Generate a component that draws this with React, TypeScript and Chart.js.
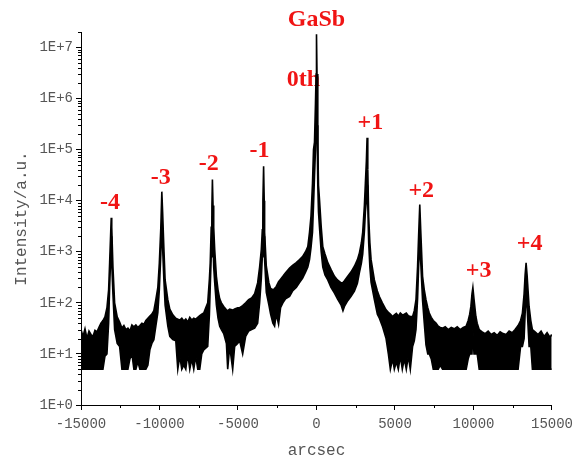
import React, { useEffect, useRef } from "react";
import { Chart, registerables } from "chart.js";

Chart.register(...registerables);

// Rocking-curve scan: angle (arcsec) with the upper and lower edge of the noisy trace (counts)
const arcsec = [
  -15000, -14873, -14746, -14619, -14491, -14364, -14237, -14110, -13983, -13856,
  -13729, -13602, -13475, -13347, -13240, -13176, -13106, -13074, -13042, -12966,
  -12858, -12693, -12540,
  -12394, -12267, -12140, -12012, -11885, -11758, -11631, -11504, -11377, -11250,
  -11123, -10996, -10868, -10741, -10614, -10487, -10360, -10233, -10106, -10011,
  -9915, -9852, -9801, -9725, -9642, -9470, -9343, -9152, -8962,
  -8835, -8708, -8580, -8453, -8326, -8199, -8072, -7945, -7818, -7691,
  -7564, -7436, -7309, -7182, -7055, -6928, -6820, -6769, -6706, -6661,
  -6630, -6591, -6547, -6484, -6376, -6273, -6165, -6057,
  -5911, -5739, -5656, -5529, -5339, -5212, -5021, -4894, -4703, -4512,
  -4322, -4131, -3940, -3750, -3623, -3515, -3451, -3413, -3369, -3330,
  -3305, -3197, -3031,
  -2923, -2777, -2669, -2561, -2415, -2288, -2142, -1970, -1716, -1525,
  -1290, -1080, -890, -699, -553, -445, -350, -254, -191, -127,
  -64, -25, 0,
  32, 83, 127, 191, 299, 401, 541, 719, 922, 1144,
  1335, 1570, 1685, 1780, 1990, 2193, 2415, 2606, 2733, 2860,
  2943, 3051, 3114, 3178, 3222, 3267, 3324, 3400, 3477,
  3686, 3877, 4004, 4195, 4431, 4577, 4704, 4850, 4958, 5085,
  5212, 5339, 5466, 5593, 5720, 5848, 5975, 6121, 6229, 6337,
  6439, 6503, 6578, 6642, 6757, 6865, 6973, 7088, 7183, 7310,
  7437, 7609, 7755, 7882, 8029, 8200, 8391, 8582, 8773, 8963,
  9154, 9345, 9535, 9662, 9758, 9834, 9904, 9961, 10031, 10152,
  10235, 10362, 10553, 10744, 10934, 11125, 11316, 11506, 11697, 11888,
  12078, 12269, 12460, 12650, 12841, 13000, 13115, 13223, 13287, 13350,
  13414, 13541, 13650, 13752, 13923, 14114, 14305, 14495, 14686, 14877,
  14980,
];

const upperCounts = [
  30, 22, 31, 20, 28, 24, 22, 29, 27, 33,
  40, 45, 53, 80, 180, 610, 2500, 4600, 3000, 510,
  100, 53, 42,
  32, 36, 30, 32, 28, 37, 34, 37, 33, 36,
  40, 38, 45, 50, 55, 60, 70, 115, 200, 600,
  3000, 15000, 6000, 1260, 280, 115, 75, 58, 50,
  48, 46, 50, 44, 48, 42, 52, 46, 50, 48,
  52, 56, 60, 63, 80, 100, 300, 610, 3000, 8000,
  26000, 8000, 3000, 1100, 330, 180, 120, 100,
  85, 73, 70, 75, 72, 76, 80, 80, 88, 100,
  115, 125, 150, 245, 500, 1100, 2700, 10000, 47000, 10000,
  2400, 520, 245,
  190, 180, 190, 210, 260, 290, 330, 390, 480, 540,
  610, 700, 800, 1000, 1260, 2400, 5000, 22000, 100000, 140000,
  830000, 3000000, 18000000,
  3000000, 140000, 20000, 10500, 3100, 1260, 900, 610, 450, 330,
  280, 245, 250, 270, 330, 400, 520, 700, 950, 1500,
  2400, 8000, 22000, 60000, 170000, 40000, 4900, 1500, 700,
  280, 170, 133, 100, 73, 65, 60, 54, 58, 62,
  55, 63, 58, 60, 63, 56, 54, 54, 70, 115,
  520, 2000, 8400, 2500, 330, 180, 115, 80, 63, 52,
  45, 40, 35, 33, 32, 34, 30, 33, 31, 34,
  30, 33, 35, 45, 60, 85, 150, 200, 120, 54,
  40, 30, 27, 25, 28, 24, 26, 23, 27, 25,
  24, 28, 26, 30, 36, 45, 63, 150, 350, 610,
  350, 85, 45, 30, 27, 24, 28, 22, 26, 21,
  24,
];

const lowerCounts = [
  5, 5, 5, 5, 5, 5, 5, 5, 5, 5,
  5, 5, 9, 10, 40, 200, 800, 2000, 600, 150,
  30, 16, 14,
  5, 5, 5, 5, 8, 10, 5, 5, 7, 5,
  5, 5, 5, 6, 12, 16, 19, 35, 64, 180,
  900, 4000, 1200, 300, 90, 35, 22, 19, 18,
  5, 9, 5, 6, 5, 10, 5, 8, 5, 9,
  5, 5, 10, 12, 13, 14, 60, 200, 800, 2500,
  5000, 1500, 500, 250, 90, 50, 35, 30,
  25, 16, 5, 14, 5, 14, 16, 18, 10, 22,
  28, 30, 32, 40, 100, 300, 800, 2500, 6000, 2000,
  700, 160, 90,
  60, 40, 35, 60, 38, 80, 100, 120, 133, 170,
  200, 250, 300, 400, 500, 700, 1200, 2400, 8000, 30000,
  100000, 300000, 500000,
  300000, 20000, 6000, 3000, 1000, 500, 350, 280, 200, 155,
  120, 90, 70, 85, 110, 133, 170, 240, 390, 600,
  900, 2500, 6000, 10000, 20000, 8000, 1500, 500, 250,
  115, 60, 50, 35, 20, 10, 5, 8, 5, 7,
  5, 9, 5, 8, 5, 9, 5, 14, 18, 30,
  120, 500, 1500, 600, 110, 40, 15, 10, 10, 8,
  5, 5, 5, 6, 5, 5, 5, 5, 5, 5,
  5, 5, 5, 8, 10, 10, 10, 30, 10, 10,
  10, 5, 5, 5, 5, 5, 5, 5, 5, 5,
  5, 5, 5, 5, 5, 14, 14, 20, 60, 150,
  80, 14, 14, 5, 5, 5, 5, 5, 5, 5,
  5,
];

// Axis ticks
const xMajorTicks = [-15000, -10000, -5000, 0, 5000, 10000, 15000];
const xMinorTicks = [-12500, -7500, -2500, 2500, 7500, 12500];
const yMajorTicks = [1, 10, 100, 1000, 10000, 100000, 1000000, 10000000];

// Satellite-order annotations (text, anchor angle, anchor intensity)
const peakLabelText = ["GaSb", "0th", "-4", "-3", "-2", "-1", "+1", "+2", "+3", "+4"];
const peakLabelX = [0, -826, -13157, -9915, -6864, -3623, 3432, 6674, 10328, 13570];
const peakLabelY = [3.5e7, 2.35e6, 9.2e3, 2.8e4, 5.3e4, 9.6e4, 3.4e5, 1.57e4, 424, 1435];

const tickFont = { family: '"Liberation Mono", "DejaVu Sans Mono", monospace', size: 14 };
const titleFont = { family: '"Liberation Mono", "DejaVu Sans Mono", monospace', size: 16 };
const textGray = "#555555";

const minorTickPlugin = {
  id: "minorTicks",
  afterDraw(chart: any) {
    const { ctx, scales } = chart;
    const x = scales.x;
    const y = scales.y;
    ctx.save();
    ctx.strokeStyle = "#000";
    ctx.lineWidth = 1;
    ctx.beginPath();
    for (let e = 0; e < 8; e++) {
      for (let m = 2; m <= 9; m++) {
        const v = m * Math.pow(10, e);
        if (v > y.max) break;
        const py = Math.round(y.getPixelForValue(v)) + 0.5;
        ctx.moveTo(y.right - 3, py);
        ctx.lineTo(y.right, py);
      }
    }
    for (const v of xMinorTicks) {
      const px = Math.round(x.getPixelForValue(v)) + 0.5;
      ctx.moveTo(px, x.top);
      ctx.lineTo(px, x.top + 3);
    }
    ctx.stroke();
    ctx.restore();
  },
};

const peakLabelPlugin = {
  id: "peakLabels",
  beforeDatasetsDraw(chart: any) {
    const { ctx, scales } = chart;
    ctx.save();
    ctx.font = 'bold 24px "Liberation Serif", "Times New Roman", serif';
    ctx.fillStyle = "#f01414";
    ctx.textAlign = "center";
    ctx.textBaseline = "middle";
    peakLabelText.forEach((t, i) => {
      const px = scales.x.getPixelForValue(peakLabelX[i]);
      const py = scales.y.getPixelForValue(peakLabelY[i]);
      ctx.fillText(t, px, py);
    });
    ctx.restore();
  },
};

export default function App() {
  const canvasRef = useRef<HTMLCanvasElement | null>(null);

  useEffect(() => {
    document.body.style.margin = "0";
    const canvas = canvasRef.current;
    if (!canvas) return;

    const upper = arcsec.map((x, i) => ({ x, y: upperCounts[i] }));
    const lower = arcsec.map((x, i) => ({ x, y: lowerCounts[i] }));

    const chart = new Chart(canvas, {
      type: "line",
      data: {
        datasets: [
          {
            data: upper,
            borderColor: "#000",
            borderWidth: 1.6,
            pointRadius: 0,
            tension: 0,
            fill: false,
          },
          {
            data: lower,
            borderColor: "#000",
            borderWidth: 1.6,
            pointRadius: 0,
            tension: 0,
            fill: "-1",
            backgroundColor: "#000",
          },
        ],
      },
      options: {
        animation: false,
        responsive: false,
        events: [],
        layout: { padding: { top: 32, right: 26, left: 0, bottom: 0 } },
        plugins: {
          legend: { display: false },
          tooltip: { enabled: false },
        },
        scales: {
          x: {
            type: "linear",
            min: -15000,
            max: 15000,
            afterFit: (s: any) => {
              s.height = 57;
            },
            afterBuildTicks: (s: any) => {
              s.ticks = xMajorTicks.map((v) => ({ value: v }));
            },
            border: { color: "#000", width: 1 },
            grid: {
              drawOnChartArea: false,
              drawTicks: true,
              tickLength: 5,
              color: "#000",
            },
            ticks: {
              autoSkip: false,
              maxRotation: 0,
              padding: 6,
              color: textGray,
              font: tickFont,
              callback: (v: any) => String(v),
            },
            title: {
              display: true,
              text: "arcsec",
              color: textGray,
              font: titleFont,
              padding: { top: 0, bottom: 2 },
            },
          },
          y: {
            type: "logarithmic",
            min: 1,
            max: 2e7,
            afterFit: (s: any) => {
              s.width = 81;
            },
            afterBuildTicks: (s: any) => {
              s.ticks = yMajorTicks.map((v) => ({ value: v }));
            },
            border: { color: "#000", width: 1 },
            grid: {
              drawOnChartArea: false,
              drawTicks: true,
              tickLength: 5,
              color: "#000",
            },
            ticks: {
              autoSkip: false,
              padding: 3,
              color: textGray,
              font: tickFont,
              callback: (v: any) => `1E+${Math.round(Math.log10(Number(v)))}`,
            },
            title: {
              display: true,
              text: "Intensity/a.u.",
              color: textGray,
              font: titleFont,
              padding: { top: 12, bottom: 0 },
            },
          },
        },
      },
      plugins: [minorTickPlugin, peakLabelPlugin],
    });

    return () => chart.destroy();
  }, []);

  return (
    <canvas
      ref={canvasRef}
      width={579}
      height={462}
      style={{ display: "block", width: 579, height: 462 }}
    />
  );
}
